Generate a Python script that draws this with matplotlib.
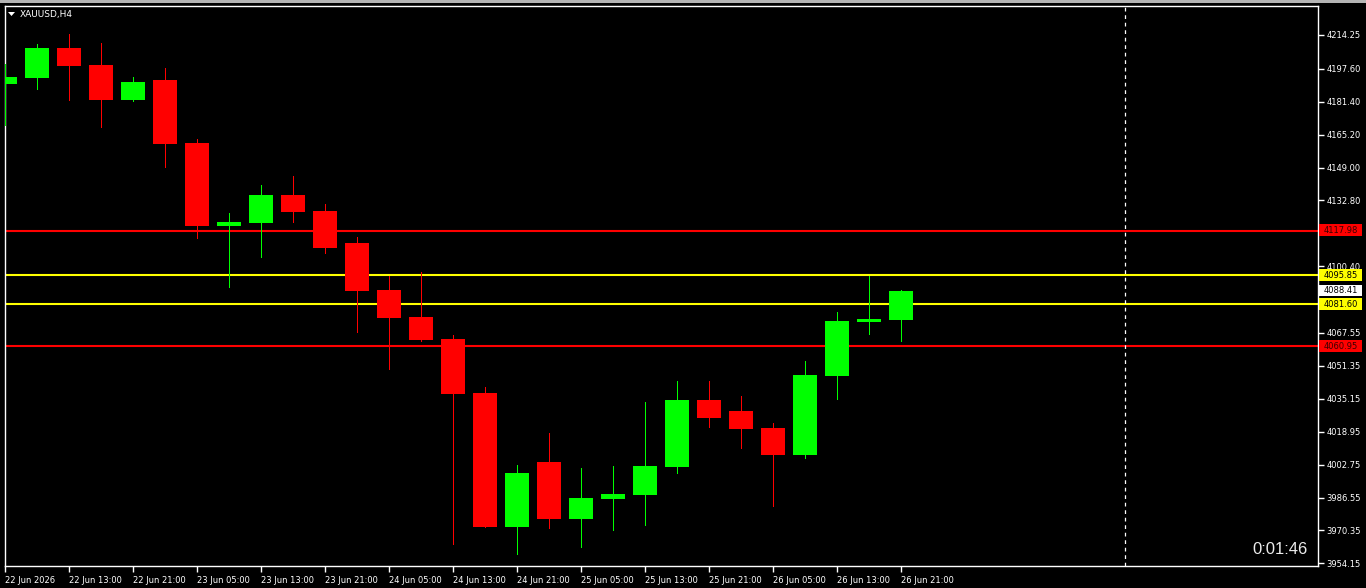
import matplotlib
matplotlib.use("Agg")
import matplotlib.pyplot as plt
import matplotlib.transforms as mtransforms
from matplotlib.patches import Rectangle, Polygon

# H4 candles, 22 Jun 05:00 .. 26 Jun 21:00
opens = [4190.3, 4193.2, 4207.9, 4199.5, 4182.4, 4192.1, 4161.1, 4120.4, 4121.8, 4135.5,
         4127.6, 4111.9, 4088.7, 4075.4, 4064.6, 4038.0, 3972.2, 4004.0, 3976.1, 3986.0,
         3988.0, 4001.8, 4034.6, 4029.1, 4020.8, 4007.6, 4046.5, 4073.1, 4074.1]
highs = [4200.0, 4209.8, 4214.7, 4210.3, 4193.6, 4198.0, 4163.1, 4126.6, 4140.4, 4144.8,
         4131.1, 4114.8, 4095.6, 4097.6, 4066.6, 4041.0, 4002.6, 4018.3, 4001.1, 4002.1,
         4033.6, 4043.9, 4043.9, 4036.5, 4023.2, 4053.8, 4077.9, 4095.6, 4088.7]
lows = [4170.1, 4187.8, 4182.4, 4169.1, 4181.9, 4149.4, 4114.5, 4090.3, 4105.1, 4122.3,
        4107.1, 4068.2, 4049.8, 4063.6, 3963.8, 3972.0, 3958.9, 3971.7, 3962.3, 3970.7,
        3973.2, 3998.8, 4021.4, 4011.1, 3982.5, 4006.1, 4035.2, 4067.2, 4063.8]
closes = [4193.6, 4207.9, 4199.1, 4182.4, 4191.1, 4160.7, 4120.4, 4122.2, 4135.5, 4127.3,
          4109.5, 4088.2, 4075.1, 4064.1, 4037.7, 3972.2, 3998.6, 3976.1, 3986.3, 3988.3,
          4002.1, 4034.6, 4025.9, 4020.4, 4007.6, 4046.9, 4073.5, 4074.4, 4088.41]

x_labels = ["22 Jun 2026", "22 Jun 13:00", "22 Jun 21:00", "23 Jun 05:00", "23 Jun 13:00",
            "23 Jun 21:00", "24 Jun 05:00", "24 Jun 13:00", "24 Jun 21:00", "25 Jun 05:00",
            "25 Jun 13:00", "25 Jun 21:00", "26 Jun 05:00", "26 Jun 13:00", "26 Jun 21:00"]
y_ticks = [4214.25, 4197.60, 4181.40, 4165.20, 4149.00, 4132.80, 4116.60, 4100.40, 4083.75,
           4067.55, 4051.35, 4035.15, 4018.95, 4002.75, 3986.55, 3970.35, 3954.15]
hidden_ticks = [4116.60, 4083.75]  # covered by the price boxes

red_levels = [4117.98, 4060.95]
yellow_levels = [4095.85, 4081.60]
bid = closes[-1]
separator_bar = 35

W, H = 1366, 588
fig = plt.figure(figsize=(W / 100, H / 100), dpi=100, facecolor="black")
ax = fig.add_axes([5 / W, 1 - 566 / H, (1318 - 5) / W, (566 - 6) / H], facecolor="black")

up_c, dn_c = "#00ff00", "#ff0000"
for i in range(len(opens)):
    o, h, l, c = opens[i], highs[i], lows[i], closes[i]
    col = up_c if c >= o else dn_c
    ax.vlines(i, l, h, color=col, lw=0.72, zorder=3, antialiased=False)
    ax.bar(i, max(abs(c - o), 0.8), bottom=min(o, c), width=0.78, color=col,
           linewidth=0, zorder=4, antialiased=False)

for lv in red_levels:
    ax.axhline(lv, color="#ff0000", lw=1.5, zorder=2)
for lv in yellow_levels:
    ax.axhline(lv, color="#ffff00", lw=1.5, zorder=2)
ax.axvline(separator_bar, color="white", lw=0.9, ls=(0, (3, 3)), zorder=2)

ax.set_xlim(0, (1318 - 5) / 32)
ax.set_ylim(3952.85, 4228.5)

for s in ax.spines.values():
    s.set_color("white")
    s.set_linewidth(1)

ax.yaxis.tick_right()
ax.set_yticks(y_ticks)
ax.set_yticklabels(["" if v in hidden_ticks else "%.2f" % v for v in y_ticks])
ax.set_xticks(range(0, len(x_labels) * 2, 2))
ax.set_xticklabels(x_labels)
ax.tick_params(colors="white", labelcolor="white", labelsize=6, length=4, width=1, pad=2)
ax.tick_params(axis="x", pad=3)
for lbl in ax.get_xticklabels():
    lbl.set_horizontalalignment("left")

# price labels on the right
trans = mtransforms.blended_transform_factory(fig.transFigure, ax.transData)
boxes = [(red_levels[0], "#ff0000", "#3a0000"), (yellow_levels[0], "#ffff00", "black"),
         (bid, "white", "black"), (yellow_levels[1], "#ffff00", "black"),
         (red_levels[1], "#ff0000", "#3a0000")]
for val, fc, tc in boxes:
    ax.add_patch(Rectangle((1319 / W, val - 2.6), 43 / W, 5.6, transform=trans,
                           facecolor=fc, edgecolor="none", clip_on=False, zorder=10))
    ax.text(1340.5 / W, val, "%.2f" % val, transform=trans, ha="center", va="center",
            fontsize=6, color=tc, clip_on=False, zorder=11)

# title and timer
fig.text(20 / W, 1 - 14.5 / H, "XAUUSD,H4", color="white", fontsize=6.5, va="center")
fig.patches.append(Polygon([[8 / W, 1 - 12 / H], [15 / W, 1 - 12 / H], [11.5 / W, 1 - 16 / H]],
                           closed=True, transform=fig.transFigure, facecolor="white",
                           edgecolor="none"))
fig.text(1308 / W, 1 - 553.5 / H, "0:01:46", color="#ececec", fontsize=12,
         family="Liberation Sans", ha="right", va="baseline")

# window chrome strip at top
fig.patches.append(Rectangle((0, 1 - 3 / H), 1, 3 / H, transform=fig.transFigure,
                             facecolor="#b4b4b4", edgecolor="none"))

fig.savefig("out.png", dpi=100, facecolor="black")
